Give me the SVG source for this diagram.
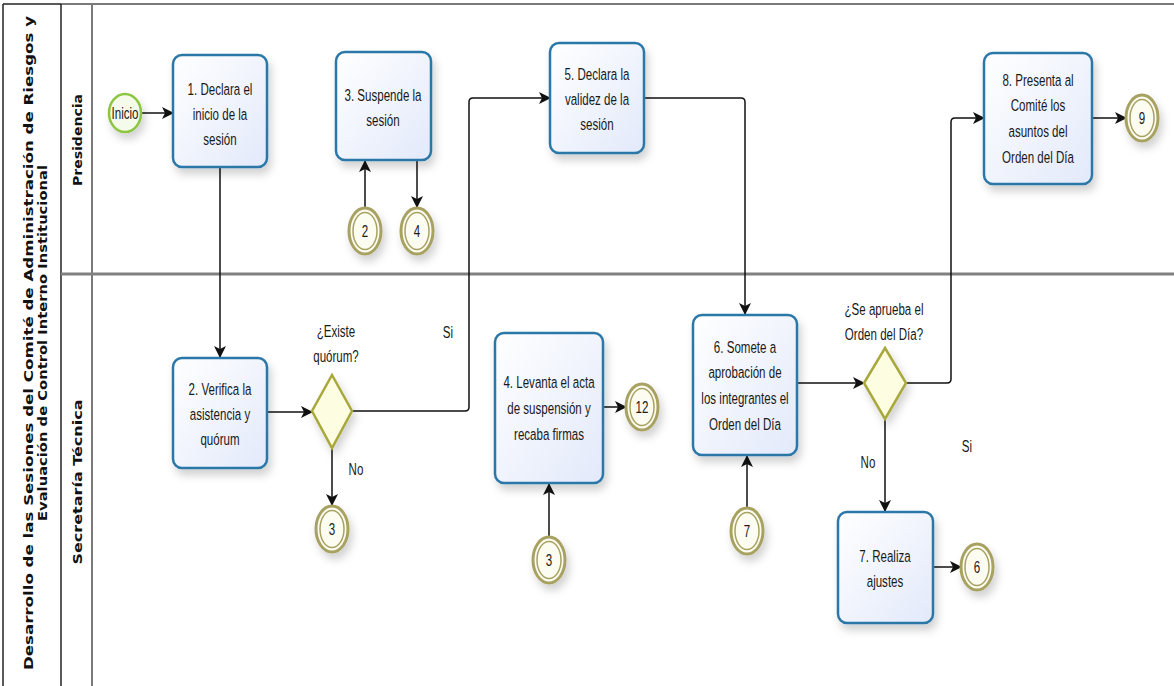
<svg xmlns="http://www.w3.org/2000/svg" width="1174" height="686" viewBox="0 0 1174 686">
<style>
.frame{fill:none;stroke:#222;stroke-width:1.5}
.gline{fill:none;stroke:#7a7a7a;stroke-width:2}
.lanesep{fill:none;stroke:#808080;stroke-width:3}
.title{font-family:"DejaVu Sans","Liberation Sans",sans-serif;font-weight:bold;font-size:13px;fill:#111;text-anchor:middle}
.task rect{fill:url(#tg);stroke:#2a77a8;stroke-width:2.5}
.t{font-family:"Liberation Sans","Arial",sans-serif;font-size:17px;fill:#1a1a1a;text-anchor:middle}
.gw polygon{fill:#fdfde2;stroke:#a9a83c;stroke-width:2.5}
.ev .o{fill:#fdfcf1;stroke:#a8a262;stroke-width:3}
.ev .i{fill:none;stroke:#a8a262;stroke-width:1.5}
.start ellipse{fill:#f5fbea;stroke:#8cc540;stroke-width:2.5}
.conn path{fill:none;stroke:#111;stroke-width:1.5;marker-end:url(#ah)}
</style>
<defs>
<linearGradient id="tg" x1="0" y1="0" x2="1" y2="1">
<stop offset="0" stop-color="#ffffff"/>
<stop offset="1" stop-color="#e2e9fa"/>
</linearGradient>
<filter id="sh" x="-30%" y="-30%" width="170%" height="170%">
<feDropShadow dx="3" dy="6" stdDeviation="4" flood-color="#000" flood-opacity="0.18"/>
</filter>
<marker id="ah" markerWidth="12" markerHeight="12" refX="11" refY="6" orient="auto" markerUnits="userSpaceOnUse">
<path d="M0,0 L12,6 L0,12 L3,6 z" fill="#111"/>
</marker>
</defs>
<rect width="1174" height="686" fill="#fff"/>

<g id="pool">
<line class="gline" x1="61" y1="4" x2="1174" y2="4"/>
<line class="frame" x1="3" y1="4" x2="61" y2="4"/>
<line class="frame" x1="3" y1="4" x2="3" y2="686"/>
<line class="frame" x1="61" y1="4" x2="61" y2="686"/>
<line class="gline" x1="92" y1="4" x2="92" y2="686"/>
<line class="lanesep" x1="61" y1="274" x2="1174" y2="274"/>
<text class="title" transform="translate(33 343) rotate(-90)" textLength="654" lengthAdjust="spacingAndGlyphs">Desarrollo  de las Sesiones del Comité de Administración de Riesgos y</text>
<text class="title" transform="translate(47 343) rotate(-90)" textLength="356" lengthAdjust="spacingAndGlyphs">Evaluación de Control Interno Institucional</text>
</g>
<g id="lane-presidencia">
<text class="title" transform="translate(82 140) rotate(-90)" textLength="92" lengthAdjust="spacingAndGlyphs">Presidencia</text>
</g>
<g id="lane-secretaria">
<text class="title" transform="translate(82 482) rotate(-90)" textLength="165" lengthAdjust="spacingAndGlyphs">Secretaría Técnica</text>
</g>

<g id="connectors" class="conn">
<path d="M141,113 H173"/>
<path d="M220,167 V357"/>
<path d="M365,208 V161"/>
<path d="M417,160 V207"/>
<path d="M267,412 H312"/>
<path d="M352,411 H465 Q469,411 469,407 V102 Q469,98 473,98 H550"/>
<path d="M332,448 V505"/>
<path d="M644,98 H741 Q745,98 745,102 V314"/>
<path d="M603,407 H626"/>
<path d="M549,537 V484"/>
<path d="M747,508 V456"/>
<path d="M797,383 H864"/>
<path d="M906,383 H947 Q951,383 951,379 V122 Q951,118 955,118 H984"/>
<path d="M885,419 V511"/>
<path d="M1092,118 H1126"/>
<path d="M933,567 H961"/>
</g>

<g id="inicio" class="start">
<ellipse cx="125" cy="113" rx="16" ry="19" filter="url(#sh)"/>
<text class="t" transform="translate(125 0) scale(0.68 1)" y="119">Inicio</text>
</g>

<g id="task1" class="task">
<rect x="173" y="55" width="94" height="112" rx="9" filter="url(#sh)"/>
<text class="t" transform="translate(220 0) scale(0.68 1)"><tspan x="0" y="95">1. Declara el</tspan><tspan x="0" y="120">inicio de la</tspan><tspan x="0" y="145">sesión</tspan></text>
</g>

<g id="task3" class="task">
<rect x="336" y="52" width="95" height="108" rx="9" filter="url(#sh)"/>
<text class="t" transform="translate(383 0) scale(0.68 1)"><tspan x="0" y="101">3. Suspende la</tspan><tspan x="0" y="126">sesión</tspan></text>
</g>

<g id="ev2" class="ev">
<ellipse class="o" cx="365" cy="231" rx="16" ry="23" filter="url(#sh)"/>
<ellipse class="i" cx="365" cy="231" rx="12" ry="18.5"/>
<text class="t" transform="translate(365 0) scale(0.68 1)" y="237">2</text>
</g>

<g id="ev4" class="ev">
<ellipse class="o" cx="417" cy="231" rx="16" ry="23" filter="url(#sh)"/>
<ellipse class="i" cx="417" cy="231" rx="12" ry="18.5"/>
<text class="t" transform="translate(417 0) scale(0.68 1)" y="237">4</text>
</g>

<g id="task5" class="task">
<rect x="550" y="43" width="94" height="110" rx="9" filter="url(#sh)"/>
<text class="t" transform="translate(597 0) scale(0.68 1)"><tspan x="0" y="80">5. Declara la</tspan><tspan x="0" y="105">validez de la</tspan><tspan x="0" y="130">sesión</tspan></text>
</g>

<g id="task8" class="task">
<rect x="984" y="53" width="108" height="131" rx="9" filter="url(#sh)"/>
<text class="t" transform="translate(1038 0) scale(0.68 1)"><tspan x="0" y="86">8. Presenta al</tspan><tspan x="0" y="111">Comité los</tspan><tspan x="0" y="137">asuntos del</tspan><tspan x="0" y="163">Orden del Día</tspan></text>
</g>

<g id="ev9" class="ev">
<ellipse class="o" cx="1142" cy="118" rx="16" ry="23" filter="url(#sh)"/>
<ellipse class="i" cx="1142" cy="118" rx="12" ry="18.5"/>
<text class="t" transform="translate(1142 0) scale(0.68 1)" y="124">9</text>
</g>

<g id="task2" class="task">
<rect x="173" y="358" width="94" height="110" rx="9" filter="url(#sh)"/>
<text class="t" transform="translate(220 0) scale(0.68 1)"><tspan x="0" y="395">2. Verifica la</tspan><tspan x="0" y="420">asistencia y</tspan><tspan x="0" y="445">quórum</tspan></text>
</g>

<g id="gw1" class="gw">
<polygon points="332,375 352,411 332,448 312,411" filter="url(#sh)"/>
<text class="t" transform="translate(336 0) scale(0.68 1)"><tspan x="0" y="337">¿Existe</tspan><tspan x="0" y="362">quórum?</tspan></text>
<text class="t" transform="translate(448 0) scale(0.68 1)" y="338">Si</text>
<text class="t" transform="translate(356 0) scale(0.68 1)" y="475">No</text>
</g>

<g id="ev3a" class="ev">
<ellipse class="o" cx="332" cy="529" rx="16" ry="23" filter="url(#sh)"/>
<ellipse class="i" cx="332" cy="529" rx="12" ry="18.5"/>
<text class="t" transform="translate(332 0) scale(0.68 1)" y="535">3</text>
</g>

<g id="task4" class="task">
<rect x="495" y="333" width="108" height="150" rx="9" filter="url(#sh)"/>
<text class="t" transform="translate(549 0) scale(0.68 1)"><tspan x="0" y="388">4. Levanta el acta</tspan><tspan x="0" y="414">de suspensión y</tspan><tspan x="0" y="440">recaba firmas</tspan></text>
</g>

<g id="ev12" class="ev">
<ellipse class="o" cx="642" cy="407" rx="16" ry="23" filter="url(#sh)"/>
<ellipse class="i" cx="642" cy="407" rx="12" ry="18.5"/>
<text class="t" transform="translate(642 0) scale(0.68 1)" y="413">12</text>
</g>

<g id="ev3b" class="ev">
<ellipse class="o" cx="549" cy="560" rx="16" ry="23" filter="url(#sh)"/>
<ellipse class="i" cx="549" cy="560" rx="12" ry="18.5"/>
<text class="t" transform="translate(549 0) scale(0.68 1)" y="566">3</text>
</g>

<g id="task6" class="task">
<rect x="693" y="315" width="104" height="140" rx="9" filter="url(#sh)"/>
<text class="t" transform="translate(745 0) scale(0.68 1)"><tspan x="0" y="353">6. Somete a</tspan><tspan x="0" y="378">aprobación de</tspan><tspan x="0" y="404">los integrantes el</tspan><tspan x="0" y="430">Orden del Día</tspan></text>
</g>

<g id="ev7" class="ev">
<ellipse class="o" cx="747" cy="531" rx="16" ry="23" filter="url(#sh)"/>
<ellipse class="i" cx="747" cy="531" rx="12" ry="18.5"/>
<text class="t" transform="translate(747 0) scale(0.68 1)" y="537">7</text>
</g>

<g id="gw2" class="gw">
<polygon points="885,348 906,383 885,419 864,383" filter="url(#sh)"/>
<text class="t" transform="translate(884 0) scale(0.68 1)"><tspan x="0" y="315">¿Se aprueba el</tspan><tspan x="0" y="340">Orden del Día?</tspan></text>
<text class="t" transform="translate(967 0) scale(0.68 1)" y="452">Si</text>
<text class="t" transform="translate(868 0) scale(0.68 1)" y="468">No</text>
</g>

<g id="task7" class="task">
<rect x="838" y="512" width="95" height="111" rx="9" filter="url(#sh)"/>
<text class="t" transform="translate(885 0) scale(0.68 1)"><tspan x="0" y="562">7. Realiza</tspan><tspan x="0" y="587">ajustes</tspan></text>
</g>

<g id="ev6" class="ev">
<ellipse class="o" cx="977" cy="567" rx="16" ry="23" filter="url(#sh)"/>
<ellipse class="i" cx="977" cy="567" rx="12" ry="18.5"/>
<text class="t" transform="translate(977 0) scale(0.68 1)" y="573">6</text>
</g>
</svg>
